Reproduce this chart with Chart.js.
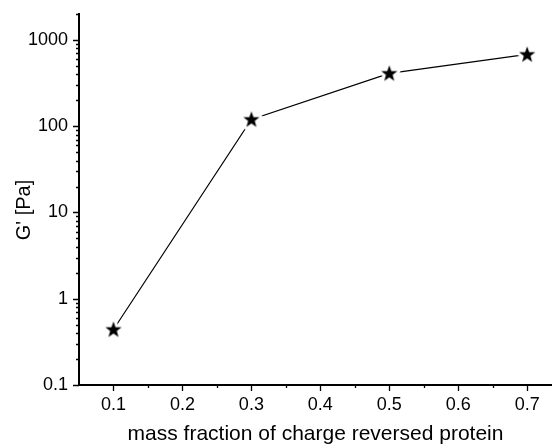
<!DOCTYPE html>
<html>
<head>
<meta charset="utf-8">
<script src="https://cdn.jsdelivr.net/npm/chart.js@4"></script>
<style>
  html, body { margin: 0; padding: 0; background: #fff; }
  #wrap { width: 552px; height: 446px; }
</style>
</head>
<body>
<div id="wrap"><canvas id="chart" width="552" height="446"></canvas></div>
<script>
// Data
const massFraction = [0.1, 0.3, 0.5, 0.7];
const storageModulus = [0.44, 120, 410, 680];

// Axis ticks
const xTickValues = [0.1, 0.2, 0.3, 0.4, 0.5, 0.6, 0.7];
const xMinorValues = [0.15, 0.25, 0.35, 0.45, 0.55, 0.65];
const yTickValues = [0.1, 1, 10, 100, 1000];
const yTickLabels = ['0.1', '1', '10', '100', '1000'];
const yTitle = "G' [Pa]";

const FONT = '"Liberation Sans", Arial, Helvetica, sans-serif';

// Filled star marker with a white halo so the line stops short of it
function makeStar() {
  const c = document.createElement('canvas');
  c.width = 28; c.height = 28;
  const g = c.getContext('2d');
  const R = 8.5, r = 3.5, cx = 14, cy = 14.5;
  g.beginPath();
  for (let i = 0; i < 10; i++) {
    const rad = i % 2 === 0 ? R : r;
    const a = -Math.PI / 2 + i * Math.PI / 5;
    const px = cx + rad * Math.cos(a), py = cy + rad * Math.sin(a);
    if (i === 0) g.moveTo(px, py); else g.lineTo(px, py);
  }
  g.closePath();
  g.lineJoin = 'round';
  g.strokeStyle = '#fff';
  g.lineWidth = 6;
  g.stroke();
  g.fillStyle = '#000';
  g.fill();
  return c;
}

// Outward tick marks (major + minor) and the y title
const axisExtras = {
  id: 'axisExtras',
  afterDraw(chart) {
    const ctx = chart.ctx;
    const xs = chart.scales.x, ys = chart.scales.y;
    const area = chart.chartArea;
    ctx.save();
    ctx.strokeStyle = '#000';
    ctx.lineWidth = 1.3;
    ctx.beginPath();
    for (let n = -1; n <= 3; n++) {
      for (let k = 1; k <= 9; k++) {
        const v = k * Math.pow(10, n);
        if (v < ys.min || v > ys.max) continue;
        const py = Math.round(ys.getPixelForValue(v)) + 0.5;
        const len = k === 1 ? 6 : 3;
        ctx.moveTo(area.left - len, py);
        ctx.lineTo(area.left, py);
      }
    }
    xTickValues.forEach(v => {
      const px = Math.round(xs.getPixelForValue(v)) + 0.5;
      ctx.moveTo(px, area.bottom);
      ctx.lineTo(px, area.bottom + 6);
    });
    xMinorValues.forEach(v => {
      const px = Math.round(xs.getPixelForValue(v)) + 0.5;
      ctx.moveTo(px, area.bottom);
      ctx.lineTo(px, area.bottom + 3);
    });
    ctx.stroke();

    // y title, a little below the middle as in the reference
    ctx.translate(24, 210);
    ctx.rotate(-Math.PI / 2);
    ctx.fillStyle = '#000';
    ctx.font = '20px ' + FONT;
    ctx.textAlign = 'center';
    ctx.textBaseline = 'middle';
    ctx.fillText(yTitle, 0, 0);
    ctx.restore();
  }
};

const ctx = document.getElementById('chart').getContext('2d');
new Chart(ctx, {
  type: 'line',
  data: {
    datasets: [{
      data: massFraction.map((x, i) => ({ x: x, y: storageModulus[i] })),
      borderColor: '#000',
      borderWidth: 1.2,
      tension: 0,
      fill: false,
      pointStyle: makeStar(),
      pointRadius: 8
    }]
  },
  options: {
    responsive: false,
    animation: false,
    events: [],
    layout: { autoPadding: false, padding: { top: 14, right: 0, left: 0, bottom: 0 } },
    plugins: {
      legend: { display: false },
      tooltip: { enabled: false }
    },
    scales: {
      x: {
        type: 'linear',
        min: 0.05,
        max: 0.736,
        afterBuildTicks: scale => { scale.ticks = xTickValues.map(v => ({ value: v })); },
        afterFit: scale => {
          scale.height = 61;
          scale.paddingLeft = 0;
          scale.paddingRight = 0;
        },
        grid: { display: false, drawTicks: false },
        border: { display: true, color: '#000', width: 2 },
        ticks: {
          color: '#000',
          padding: 9,
          maxRotation: 0,
          autoSkip: false,
          font: { family: FONT, size: 18 },
          callback: v => v.toFixed(1)
        },
        title: {
          display: true,
          text: 'mass fraction of charge reversed protein',
          color: '#000',
          font: { family: FONT, size: 21, lineHeight: 1 },
          padding: { top: 0, bottom: 1 }
        }
      },
      y: {
        type: 'logarithmic',
        min: 0.1,
        max: 2000,
        afterBuildTicks: scale => { scale.ticks = yTickValues.map(v => ({ value: v })); },
        afterFit: scale => {
          scale.width = 79;
          scale.paddingTop = 0;
          scale.paddingBottom = 0;
        },
        grid: { display: false, drawTicks: false },
        border: { display: true, color: '#000', width: 2 },
        ticks: {
          color: '#000',
          padding: 11,
          autoSkip: false,
          font: { family: FONT, size: 18 },
          callback: (v, i) => yTickLabels[i]
        },
        title: { display: false }
      }
    }
  },
  plugins: [axisExtras]
});
</script>
</body>
</html>
